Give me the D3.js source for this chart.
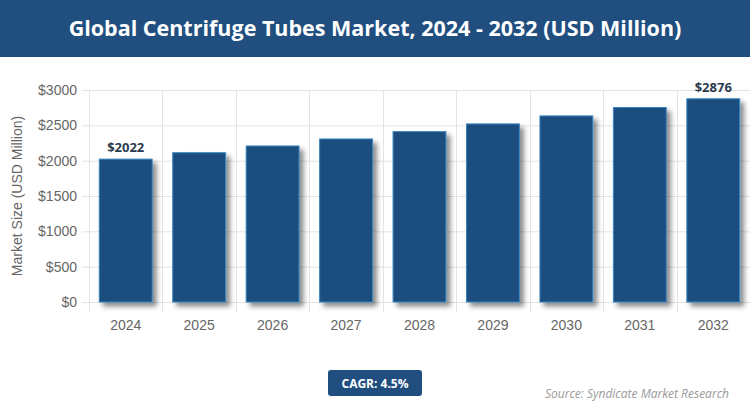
<!DOCTYPE html>
<html>
<head>
<meta charset="utf-8">
<script src="https://cdn.jsdelivr.net/npm/d3@7"></script>
<style>
  body { margin: 0; background: #fff; }
  svg { display: block; }
</style>
</head>
<body>
<svg id="chart" width="750" height="417"></svg>
<script>
"use strict";

var years = ["2024", "2025", "2026", "2027", "2028", "2029", "2030", "2031", "2032"];
var marketSize = [2022, 2113, 2208, 2307, 2411, 2520, 2633, 2752, 2876];
var yTicks = [0, 500, 1000, 1500, 2000, 2500, 3000];
var labelled = ["2024", "2032"];

var title = "Global Centrifuge Tubes Market, 2024 - 2032 (USD Million)";
var cagr = "CAGR: 4.5%";
var source = "Source: Syndicate Market Research";

var W = 750, H = 417,
    navy = "#1f4e7f",
    margin = {top: 90, right: 0, bottom: 115, left: 89};

var svg = d3.select("#chart");

// drop shadow for the bars
var defs = svg.append("defs");
var f = defs.append("filter").attr("id", "shadow")
    .attr("x", "-20%").attr("y", "-20%").attr("width", "150%").attr("height", "150%");
f.append("feDropShadow").attr("dx", 4).attr("dy", 4).attr("stdDeviation", 2.5)
    .attr("flood-color", "#000").attr("flood-opacity", 0.45);

// title banner
svg.append("rect").attr("x", 0).attr("y", 0).attr("width", W).attr("height", 57).attr("fill", navy);
svg.append("text").attr("x", W / 2).attr("y", 36)
    .attr("text-anchor", "middle")
    .attr("fill", "#fff")
    .style("font", "bold 21.5px 'Open Sans', sans-serif")
    .text(title);

var x = d3.scaleBand().domain(years).range([margin.left, W - margin.right]).paddingInner(0.28).paddingOuter(0.14);
var y = d3.scaleLinear().domain([0, 3000]).range([H - margin.bottom, margin.top]);

var step = x.step(),
    x0 = margin.left;

// gridlines
var grid = svg.append("g");
grid.selectAll("line.h").data(yTicks).enter().append("line")
    .attr("x1", x0 - 7).attr("x2", W)
    .attr("y1", function (d) { return y(d) + 0.5; })
    .attr("y2", function (d) { return y(d) + 0.5; })
    .attr("stroke", "#e3e3e3");
grid.selectAll("line.v").data(d3.range(years.length)).enter().append("line")
    .attr("x1", function (i) { return Math.round(x0 + i * step) + 0.5; })
    .attr("x2", function (i) { return Math.round(x0 + i * step) + 0.5; })
    .attr("y1", y(3000)).attr("y2", y(0) + 10)
    .attr("stroke", "#e3e3e3");

// y axis labels
svg.append("g").selectAll("text").data(yTicks).enter().append("text")
    .attr("x", 77)
    .attr("y", function (d) { return y(d) + 5; })
    .attr("text-anchor", "end")
    .attr("fill", "#666")
    .style("font", "14px 'Liberation Sans', Arial, sans-serif")
    .text(function (d) { return "$" + d; });

svg.append("text")
    .attr("transform", "translate(22," + ((y(0) + y(3000)) / 2) + ") rotate(-90)")
    .attr("text-anchor", "middle")
    .attr("fill", "#666")
    .style("font", "14px 'Liberation Sans', Arial, sans-serif")
    .text("Market Size (USD Million)");

// x axis labels
svg.append("g").selectAll("text").data(years).enter().append("text")
    .attr("x", function (d) { return x(d) + x.bandwidth() / 2; })
    .attr("y", 330)
    .attr("text-anchor", "middle")
    .attr("fill", "#666")
    .style("font", "14px 'Liberation Sans', Arial, sans-serif")
    .text(function (d) { return d; });

// bars
svg.append("g").selectAll("rect").data(years).enter().append("rect")
    .attr("x", function (d) { return x(d); })
    .attr("y", function (d, i) { return y(marketSize[i]); })
    .attr("width", x.bandwidth())
    .attr("height", function (d, i) { return y(0) - y(marketSize[i]); })
    .attr("fill", navy)
    .attr("stroke", "#3a86c0")
    .attr("stroke-width", 1)
    .attr("filter", "url(#shadow)");

// value labels on first and last bar
svg.append("g").selectAll("text").data(labelled).enter().append("text")
    .attr("x", function (d) { return x(d) + x.bandwidth() / 2; })
    .attr("y", function (d) { return y(marketSize[years.indexOf(d)]) - 7; })
    .attr("text-anchor", "middle")
    .attr("fill", "#2a3b4d")
    .style("font", "bold 13px 'Open Sans', sans-serif")
    .text(function (d) { return "$" + marketSize[years.indexOf(d)]; });

// CAGR badge
svg.append("rect").attr("x", 328).attr("y", 370).attr("width", 94).attr("height", 26)
    .attr("rx", 3).attr("fill", navy);
svg.append("text").attr("x", 375).attr("y", 388)
    .attr("text-anchor", "middle").attr("fill", "#fff")
    .style("font", "bold 12px 'Open Sans', sans-serif")
    .text(cagr);

svg.append("text").attr("x", 729).attr("y", 398)
    .attr("text-anchor", "end").attr("fill", "#999")
    .style("font", "italic 12px 'Open Sans', sans-serif")
    .text(source);
</script>
</body>
</html>
